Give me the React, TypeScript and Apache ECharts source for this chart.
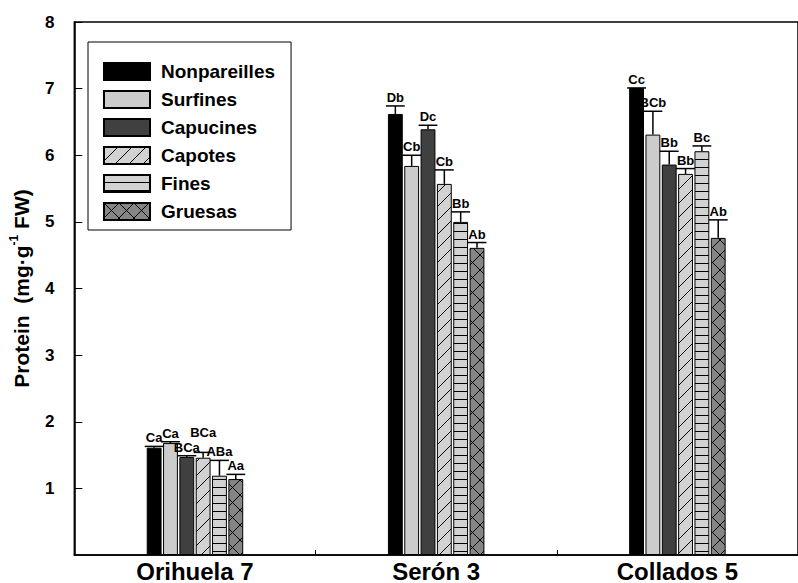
import React, { useEffect, useRef } from 'react';
import * as echarts from 'echarts';

const categories = ['Orihuela 7', 'Serón 3', 'Collados 5'];
const seriesNames = ['Nonpareilles', 'Surfines', 'Capucines', 'Capotes', 'Fines', 'Gruesas'];
const nonpareilles = [1.61, 6.62, 7.01];
const surfines = [1.68, 5.84, 6.31];
const capucines = [1.47, 6.39, 5.86];
const capotes = [1.46, 5.57, 5.72];
const fines = [1.19, 5.0, 6.06];
const gruesas = [1.14, 4.61, 4.76];
const means = [nonpareilles, surfines, capucines, capotes, fines, gruesas];

const errNonpareilles = [0.02, 0.12, 0];
const errSurfines = [0.02, 0.16, 0.35];
const errCapucines = [0.02, 0.06, 0.2];
const errCapotes = [0.08, 0.21, 0.08];
const errFines = [0.23, 0.15, 0.08];
const errGruesas = [0.07, 0.08, 0.27];
const errors = [errNonpareilles, errSurfines, errCapucines, errCapotes, errFines, errGruesas];

const lettersNonpareilles = ['Ca', 'Db', 'Cc'];
const lettersSurfines = ['Ca', 'Cb', 'BCb'];
const lettersCapucines = ['BCa', 'Dc', 'Bb'];
const lettersCapotes = ['BCa', 'Cb', 'Bb'];
const lettersFines = ['ABa', 'Bb', 'Bc'];
const lettersGruesas = ['Aa', 'Ab', 'Ab'];
const letters = [lettersNonpareilles, lettersSurfines, lettersCapucines, lettersCapotes, lettersFines, lettersGruesas];

const yTickValues = [0, 1, 2, 3, 4, 5, 6, 7, 8];

// extra lift (px) for a crowded label: series index 3 (Capotes), category 0
const labelLift: Record<string, number> = { '3-0': 11 };

const FONT = '"Liberation Sans", Arial, Helvetica, sans-serif';
const N = 6;
const GAP = 0.1;
const CAT_GAP = 0.6;

function makePattern(kind: string): any {
  const c = document.createElement('canvas');
  let w = 14, h = 14;
  if (kind === 'horiz') { w = 8; h = 8; }
  if (kind === 'cross') { w = 15; h = 15; }
  c.width = w; c.height = h;
  const ctx = c.getContext('2d')!;
  ctx.fillStyle = kind === 'cross' ? '#858585' : '#d2d2d2';
  ctx.fillRect(0, 0, w, h);
  ctx.strokeStyle = '#000';
  ctx.fillStyle = '#000';
  ctx.lineWidth = 1;
  if (kind === 'diag') {
    ctx.beginPath();
    ctx.moveTo(0, h); ctx.lineTo(w, 0);
    ctx.moveTo(-2, 2); ctx.lineTo(2, -2);
    ctx.moveTo(w - 2, h + 2); ctx.lineTo(w + 2, h - 2);
    ctx.stroke();
  } else if (kind === 'horiz') {
    ctx.fillRect(0, h - 1, w, 1);
  } else if (kind === 'cross') {
    ctx.beginPath();
    ctx.moveTo(0, 0); ctx.lineTo(w, h);
    ctx.moveTo(0, h); ctx.lineTo(w, 0);
    ctx.stroke();
  }
  return { image: c.toDataURL(), imageWidth: w, imageHeight: h, repeat: 'repeat' };
}

export default function App() {
  const ref = useRef<HTMLDivElement>(null);
  useEffect(() => {
    if (!ref.current) return;
    const chart = echarts.init(ref.current, undefined, { renderer: 'svg' });
    const colors: any[] = [
      '#000000',
      '#cccccc',
      '#404040',
      makePattern('diag'),
      makePattern('horiz'),
      makePattern('cross'),
    ];

    const barSeries = seriesNames.map((name, si) => ({
      type: 'bar',
      name,
      data: means[si],
      barGap: '10%',
      barCategoryGap: '60%',
      z: 2,
      itemStyle: { color: colors[si], borderColor: '#000', borderWidth: 1 },
    }));

    const errSeries = seriesNames.map((name, si) => ({
      type: 'custom',
      name: name + ' err',
      z: 5,
      silent: true,
      clip: false,
      data: categories.map((_, ci) => [ci, means[si][ci], errors[si][ci]]),
      encode: { x: 0, y: 1 },
      renderItem: (params: any, api: any) => {
        const ci = api.value(0);
        const m = api.value(1);
        const e = api.value(2);
        const bw = api.size([1, 0])[0];
        const barW = (bw * (1 - CAT_GAP)) / (N + (N - 1) * GAP);
        const total = N * barW + (N - 1) * barW * GAP;
        const off = -total / 2 + si * barW * (1 + GAP) + barW / 2;
        const base = api.coord([ci, m]);
        const top = api.coord([ci, m + e]);
        const x = base[0] + off;
        const lift = labelLift[si + '-' + ci] || 0;
        return {
          type: 'group',
          children: [
            {
              type: 'line',
              shape: { x1: x, y1: base[1], x2: x, y2: top[1] },
              style: { stroke: '#000', lineWidth: 1.5 },
            },
            {
              type: 'line',
              shape: { x1: x - barW / 2 - 2, y1: top[1], x2: x + barW / 2 + 2, y2: top[1] },
              style: { stroke: '#000', lineWidth: 1.5 },
            },
            {
              type: 'text',
              x,
              y: top[1] - 2 - lift,
              style: {
                text: letters[si][ci],
                align: 'center',
                verticalAlign: 'bottom',
                fontSize: 13,
                fontWeight: 'bold',
                fontFamily: FONT,
                fill: '#000',
              },
            },
          ],
        };
      },
    }));

    chart.setOption({
      animation: false,
      backgroundColor: '#fff',
      grid: {
        left: 68,
        top: 22,
        width: 743,
        bottom: 26,
        show: true,
        borderColor: '#000',
        borderWidth: 1.5,
      },
      legend: {
        data: seriesNames,
        orient: 'vertical',
        left: 88,
        top: 42,
        icon: 'rect',
        itemWidth: 46,
        itemHeight: 17,
        itemGap: 9,
        padding: [20, 16, 9, 15],
        borderColor: '#000',
        borderWidth: 1,
        borderRadius: 0,
        backgroundColor: '#fff',
        selectedMode: false,
        textStyle: {
          fontSize: 19,
          fontWeight: 'bold',
          color: '#000',
          fontFamily: FONT,
          padding: [0, 0, 0, 6],
        },
      },
      xAxis: {
        type: 'category',
        data: categories,
        axisLine: { lineStyle: { color: '#000', width: 1.5 } },
        axisTick: { show: true, inside: true, length: 5, lineStyle: { color: '#000' } },
        axisLabel: {
          fontSize: 24,
          fontWeight: 'bold',
          color: '#000',
          fontFamily: FONT,
          margin: 4,
        },
      },
      yAxis: {
        type: 'value',
        min: yTickValues[0],
        max: yTickValues[yTickValues.length - 1],
        interval: 1,
        name: 'Protein  (mg·g{sup|-1} FW)',
        nameLocation: 'middle',
        nameGap: 31,
        nameTextStyle: {
          fontSize: 21,
          fontWeight: 'bold',
          color: '#000',
          fontFamily: FONT,
          lineHeight: 26,
          rich: {
            sup: {
              fontSize: 12,
              fontWeight: 'bold',
              fontFamily: FONT,
              color: '#000',
              verticalAlign: 'top',
              lineHeight: 14,
            },
          },
        },
        axisLine: { show: true, lineStyle: { color: '#000', width: 1.5 } },
        axisTick: { show: true, inside: true, length: 8, lineStyle: { color: '#000' } },
        splitLine: { show: false },
        axisLabel: {
          showMinLabel: false,
          fontSize: 17,
          fontWeight: 'bold',
          color: '#000',
          fontFamily: FONT,
          margin: 20,
        },
      },
      series: [...barSeries, ...errSeries],
    });
    return () => chart.dispose();
  }, []);
  return (
    <div
      ref={ref}
      style={{ position: 'absolute', left: 0, top: 0, width: 798, height: 583 }}
    />
  );
}
